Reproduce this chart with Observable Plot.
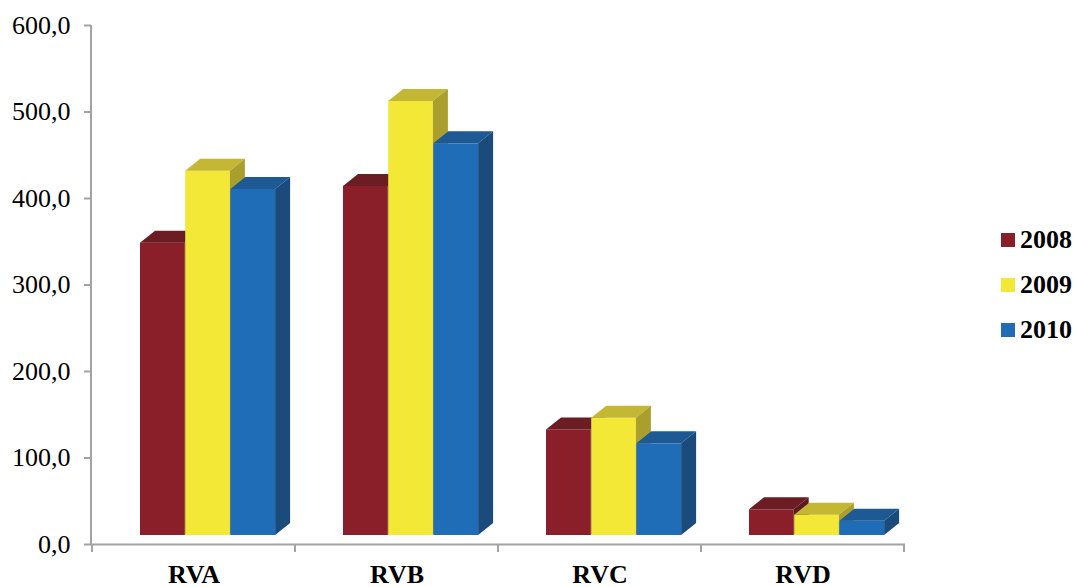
<!DOCTYPE html>
<html>
<head>
<meta charset="utf-8">
<script src="https://cdn.jsdelivr.net/npm/d3@7"></script>
<script src="https://cdn.jsdelivr.net/npm/@observablehq/plot@0.6"></script>
<style>
  body { margin: 0; background: #fff; }
  #chart { position: relative; width: 1077px; height: 587px; font-family: "Liberation Serif", "Times New Roman", serif; }
  #chart svg { display: block; }
  #legend { position: absolute; left: 1001px; top: 217px; }
  .item { display: flex; align-items: center; height: 45px; font-weight: bold; font-size: 26px; color: #000; }
  .swatch { width: 14px; height: 14px; margin-right: 5px; }
</style>
</head>
<body>
<div id="chart"><div id="legend"></div></div>
<script>
// Regions and yearly values
const categories = ["RVA", "RVB", "RVC", "RVD"];
const years = ["2008", "2009", "2010"];
const values2008 = [338, 403.5, 122, 29.7];
const values2009 = [421, 501.7, 135.6, 23.5];
const values2010 = [400, 452.8, 106, 16.5];
const yTicks = [0, 100, 200, 300, 400, 500, 600];

// Face colours of the 3D columns, one entry per year
const frontColors = ["#8a1f2a", "#f2e835", "#1f6db6"];
const topColors = ["#6b1d23", "#c4b734", "#1d5a94"];
const sideColors = ["#5c191e", "#aa9e2c", "#1b4b7b"];
const axisGray = "#a3a3a3";

const series = [values2008, values2009, values2010];
const rows = years.flatMap((year, j) =>
  categories.map((cat, i) => ({cat, year, value: series[j][i]}))
);

const W = 1077, H = 587;
const margin = {left: 91, right: 172, top: 25, bottom: 43};
const band = (W - margin.left - margin.right) / categories.length;
const groupOffset = 48;   // gap between a region's band start and its first column
const colWidth = 45.2;    // front face width of one column
const lift = 9;           // columns stand slightly behind the axis plane
const depthX = 15, depthY = 12;

const plot = Plot.plot({
  width: W,
  height: H,
  marginLeft: margin.left,
  marginRight: margin.right,
  marginTop: margin.top,
  marginBottom: margin.bottom,
  style: {fontFamily: "'Liberation Serif', 'Times New Roman', serif", fontSize: "26px", color: "#000", background: "#fff", overflow: "visible"},
  x: {domain: categories, padding: 0},
  y: {domain: [0, 600]},
  color: {domain: years, range: frontColors},
  marks: [
    Plot.ruleY([0], {stroke: axisGray, strokeWidth: 2}),
    ...years.map((year, j) =>
      Plot.barY(rows.filter(d => d.year === year), {
        x: "cat",
        y: "value",
        fill: "year",
        insetLeft: groupOffset + colWidth * j,
        insetRight: band - groupOffset - colWidth * (j + 1),
        dy: -lift
      })
    ),
    Plot.axisY({
      ticks: yTicks,
      tickFormat: d => d.toFixed(1).replace(".", ","),
      tickSize: 7,
      tickPadding: 14,
      stroke: axisGray,
      strokeWidth: 2,
      fontSize: 26,
      label: null
    }),
    Plot.axisX({tickSize: 0, tickPadding: 20, fontSize: 26, fontWeight: "bold", label: null})
  ]
});

const chart = document.getElementById("chart");
chart.insertBefore(plot, chart.firstChild);

// Give every column a top and a right side face, drawn right after its front face
const colorIndex = new Map(frontColors.map((c, i) => [c.toLowerCase(), i]));
plot.querySelectorAll('g[aria-label="bar"] rect').forEach(rect => {
  const x = +rect.getAttribute("x"), y = +rect.getAttribute("y");
  const w = +rect.getAttribute("width"), h = +rect.getAttribute("height");
  const k = colorIndex.get((rect.getAttribute("fill") || "").toLowerCase()) ?? 0;
  const ns = "http://www.w3.org/2000/svg";
  const side = document.createElementNS(ns, "polygon");
  side.setAttribute("points", [
    [x + w, y], [x + w + depthX, y - depthY], [x + w + depthX, y + h - depthY], [x + w, y + h]
  ].map(p => p.join(",")).join(" "));
  side.setAttribute("fill", sideColors[k]);
  const top = document.createElementNS(ns, "polygon");
  top.setAttribute("points", [
    [x, y], [x + w, y], [x + w + depthX, y - depthY], [x + depthX, y - depthY]
  ].map(p => p.join(",")).join(" "));
  top.setAttribute("fill", topColors[k]);
  rect.after(top);
  top.after(side);
});

// Vertical value axis line and the region separators under the category axis
const xs = plot.scale("x"), ys = plot.scale("y");
const svg = d3.select(plot);
const g = svg.append("g").attr("stroke", axisGray).attr("stroke-width", 2);
const x0 = xs.range[0];
g.append("line").attr("x1", x0).attr("x2", x0).attr("y1", ys.apply(0)).attr("y2", ys.apply(600));
const bounds = categories.map(c => xs.apply(c)).concat([xs.apply(categories[categories.length - 1]) + xs.bandwidth]);
bounds.forEach(bx => {
  g.append("line").attr("x1", bx).attr("x2", bx).attr("y1", ys.apply(0)).attr("y2", ys.apply(0) + 8);
});

// Legend on the right
const legend = d3.select("#legend");
years.forEach((year, j) => {
  const item = legend.append("div").attr("class", "item");
  item.append("div").attr("class", "swatch").style("background", frontColors[j]);
  item.append("span").text(year);
});
</script>
</body>
</html>
